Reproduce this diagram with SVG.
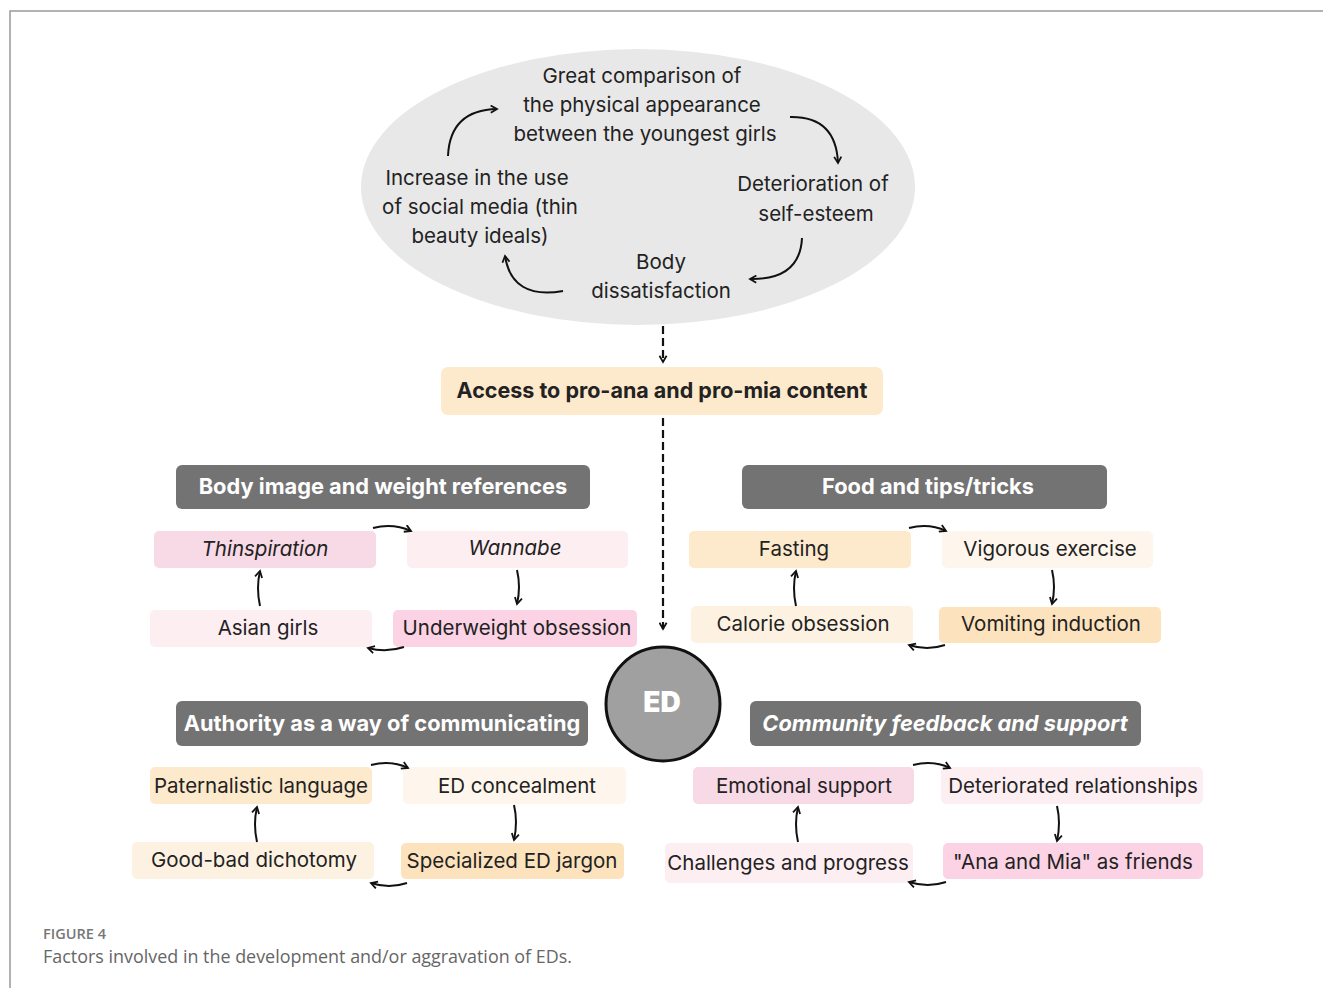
<svg xmlns="http://www.w3.org/2000/svg" width="1323" height="988" viewBox="0 0 1323 988">
<defs>
<marker id="ah" viewBox="0 0 10 10" refX="8" refY="5" markerWidth="9" markerHeight="9" markerUnits="userSpaceOnUse" orient="auto">
<path d="M1,1 L8,5 L1,9" fill="none" stroke="#111" stroke-width="2"/>
</marker>
<style>
.t{font-family:Inter,"Noto Sans","Liberation Sans",sans-serif;font-size:20.5px;fill:#222;text-anchor:middle}
.it{font-style:italic}
.h{font-family:Inter,"Noto Sans","Liberation Sans",sans-serif;font-size:21.8px;font-weight:700;fill:#fff;text-anchor:middle}
.hb{fill:#737373}
.c{fill:none;stroke:#111;stroke-width:2;marker-end:url(#ah)}
.d{fill:none;stroke:#111;stroke-width:2.2;stroke-dasharray:8,4;marker-end:url(#ah)}
.p1{fill:#f8d9e6}.p2{fill:#fdeef2}.p3{fill:#fbd3e4}
.o1{fill:#fde9cc}.o2{fill:#fef6ec}.o3{fill:#fdf2e2}.o4{fill:#fde3bd}
</style>
</defs>
<rect width="1323" height="988" fill="#fff"/>
<path d="M10,988 L10,11 L1323,11" fill="none" stroke="#999" stroke-width="1.5"/>

<g id="cycle">
<ellipse cx="638" cy="187" rx="277" ry="138" fill="#e8e8e8"/>
<text class="t" x="642" y="83">Great comparison of</text>
<text class="t" x="642" y="112">the physical appearance</text>
<text class="t" x="645" y="141">between the youngest girls</text>
<text class="t" x="477" y="185">Increase in the use</text>
<text class="t" x="480" y="214">of social media (thin</text>
<text class="t" x="480" y="243">beauty ideals)</text>
<text class="t" x="813" y="191">Deterioration of</text>
<text class="t" x="816" y="221">self-esteem</text>
<text class="t" x="661" y="269">Body</text>
<text class="t" x="661" y="298">dissatisfaction</text>
</g>

<g id="access">
<rect x="441" y="367" width="442" height="48" rx="7" class="o1"/>
<text class="t" x="662" y="398" style="font-weight:700;font-size:21.5px">Access to pro-ana and pro-mia content</text>
</g>

<g id="ed">
<circle cx="663" cy="704" r="57" fill="#a0a0a0" stroke="#111" stroke-width="3"/>
<text x="662" y="712" style="font-family:Inter,'Liberation Sans',sans-serif;font-size:28px;font-weight:900;fill:#fff;text-anchor:middle">ED</text>
</g>

<g id="h-body"><rect x="176" y="465" width="414" height="44" rx="6" class="hb"/><text class="h" x="383" y="494">Body image and weight references</text></g>
<g id="h-food"><rect x="742" y="465" width="365" height="44" rx="6" class="hb"/><text class="h" x="928" y="494">Food and tips/tricks</text></g>
<g id="h-auth"><rect x="176" y="701" width="412" height="45" rx="6" class="hb"/><text class="h" x="382" y="731">Authority as a way of communicating</text></g>
<g id="h-comm"><rect x="750" y="701" width="391" height="45" rx="6" class="hb"/><text class="h it" x="945" y="731">Community feedback and support</text></g>

<g id="n-thin"><rect x="154" y="531" width="222" height="37" rx="5" class="p1"/><text class="t it" x="265" y="556">Thinspiration</text></g>
<g id="n-wanna"><rect x="407" y="531" width="221" height="37" rx="5" class="p2"/><text class="t it" x="515" y="555">Wannabe</text></g>
<g id="n-asian"><rect x="150" y="610" width="222" height="37" rx="5" class="p2"/><text class="t" x="268" y="635">Asian girls</text></g>
<g id="n-under"><rect x="393" y="610" width="244" height="37" rx="5" class="p3"/><text class="t" x="517" y="635">Underweight obsession</text></g>

<g id="n-fast"><rect x="689" y="531" width="222" height="37" rx="5" class="o1"/><text class="t" x="794" y="556">Fasting</text></g>
<g id="n-vig"><rect x="942" y="531" width="211" height="37" rx="5" class="o2"/><text class="t" x="1050" y="556">Vigorous exercise</text></g>
<g id="n-cal"><rect x="691" y="606" width="222" height="37" rx="5" class="o3"/><text class="t" x="803" y="631">Calorie obsession</text></g>
<g id="n-vom"><rect x="939" y="607" width="222" height="36" rx="5" class="o4"/><text class="t" x="1051" y="631">Vomiting induction</text></g>

<g id="n-pat"><rect x="150" y="767" width="222" height="37" rx="5" class="o1"/><text class="t" x="261" y="793">Paternalistic language</text></g>
<g id="n-conc"><rect x="403" y="767" width="223" height="37" rx="5" class="o2"/><text class="t" x="517" y="793">ED concealment</text></g>
<g id="n-good"><rect x="132" y="842" width="242" height="37" rx="5" class="o3"/><text class="t" x="254" y="867">Good-bad dichotomy</text></g>
<g id="n-jarg"><rect x="401" y="843" width="223" height="36" rx="5" class="o4"/><text class="t" x="512" y="868">Specialized ED jargon</text></g>

<g id="n-emo"><rect x="693" y="767" width="221" height="37" rx="5" class="p1"/><text class="t" x="804" y="793">Emotional support</text></g>
<g id="n-det"><rect x="941" y="767" width="262" height="37" rx="5" class="p2"/><text class="t" x="1073" y="793">Deteriorated relationships</text></g>
<g id="n-chal"><rect x="665" y="843" width="248" height="40" rx="5" class="p2"/><text class="t" x="788" y="870">Challenges and progress</text></g>
<g id="n-ana"><rect x="943" y="843" width="260" height="36" rx="5" class="p3"/><text class="t" x="1073" y="869">"Ana and Mia" as friends</text></g>

<g id="connectors">
<path class="c" d="M448,156 Q450,110 497,109"/>
<path class="c" d="M790,117 Q836,116 838,163"/>
<path class="c" d="M802,238 Q800,280 750,279"/>
<path class="c" d="M563,291 Q512,300 505,256"/>
<path class="d" d="M663,326 L663,362"/>
<path class="d" d="M663,418 L663,629"/>

<path class="c" d="M373,528 Q393,523 411,531"/>
<path class="c" d="M517,570 Q521,587 517,604"/>
<path class="c" d="M404,647 Q386,653 368,648"/>
<path class="c" d="M260,606 Q256,588 260,571"/>

<path class="c" d="M909,528 Q929,523 946,531"/>
<path class="c" d="M1052,570 Q1056,587 1052,604"/>
<path class="c" d="M945,645 Q927,651 909,645"/>
<path class="c" d="M796,606 Q792,588 796,571"/>

<path class="c" d="M371,765 Q391,760 408,768"/>
<path class="c" d="M514,805 Q518,822 514,840"/>
<path class="c" d="M407,883 Q389,889 371,883"/>
<path class="c" d="M257,842 Q253,824 257,807"/>

<path class="c" d="M913,765 Q933,760 950,768"/>
<path class="c" d="M1057,806 Q1061,823 1057,841"/>
<path class="c" d="M946,882 Q928,888 909,882"/>
<path class="c" d="M798,842 Q794,824 798,807"/>
</g>

<g id="caption">
<text x="43" y="939" textLength="63" lengthAdjust="spacingAndGlyphs" style="font-family:'Open Sans','Liberation Sans',sans-serif;font-size:14px;font-weight:600;fill:#777">FIGURE 4</text>
<text x="43" y="963" textLength="529" lengthAdjust="spacingAndGlyphs" style="font-family:'Open Sans','Liberation Sans',sans-serif;font-size:18px;fill:#666">Factors involved in the development and/or aggravation of EDs.</text>
</g>
</svg>
